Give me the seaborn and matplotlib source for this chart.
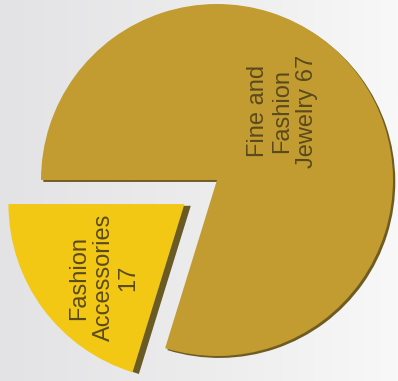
import matplotlib
matplotlib.use("Agg")
import matplotlib.pyplot as plt
from matplotlib.colors import LinearSegmentedColormap
import seaborn as sns
import numpy as np

# data
categories = ["Fine and\nFashion\nJewelry", "Fashion\nAccessories\n"]
values = [67, 17]
slice_colors = ["#C29C30", "#F2C814"]
shadow_colors = ["#6F5C22", "#6A5A24"]
explode = [0, 0.23]

sns.set_style("white")
plt.rcParams["font.family"] = ["Liberation Sans", "DejaVu Sans"]

fig = plt.figure(figsize=(3.98, 3.81), dpi=100)

# background gradient (light grey -> near white)
bg = fig.add_axes([0, 0, 1, 1])
cmap = LinearSegmentedColormap.from_list("bg", ["#E3E3E5", "#ECECED", "#F8F8F8"])
bg.imshow(np.linspace(0, 1, 256).reshape(1, -1), cmap=cmap, aspect="auto")
bg.axis("off")

ax = fig.add_axes([0, 0, 1, 1])
ax.patch.set_alpha(0)

# shadow pie for the 3d look (thin rim on big slice, thicker side on small one)
shadows, _ = ax.pie(values, explode=explode, colors=shadow_colors, startangle=180,
                    counterclock=False, radius=1, center=(0, 0),
                    wedgeprops=dict(linewidth=0))
for w, (ox, oy) in zip(shadows, [(0.013, -0.011), (0.036, -0.01)]):
    w.set_center((w.center[0] + ox, w.center[1] + oy))

wedges, _ = ax.pie(values, explode=explode, colors=slice_colors, startangle=180,
                   counterclock=False, radius=1, center=(0, 0),
                   wedgeprops=dict(linewidth=0))

# labels, rotated 90 degrees inside each slice
label_dist = [0.54, 0.62]
angle_shift = [10, 6]
for w, cat, val, d, s in zip(wedges, categories, values, label_dist, angle_shift):
    mid = np.deg2rad((w.theta1 + w.theta2) / 2 + s)
    cx, cy = w.center
    if cat.endswith("\n"):
        txt = cat + str(val)
    else:
        txt = cat + " " + str(val)
    ax.text(cx + d * np.cos(mid), cy + d * np.sin(mid), txt, rotation=90,
            ha="center", va="center", multialignment="center",
            fontsize=17, color="#5A4B1C", linespacing=1.15)

ax.set_xlim(-217 / 176, 181 / 176)
ax.set_ylim(-201 / 176, 180 / 176)
ax.set_aspect("auto")
ax.axis("off")

fig.savefig("out.png", dpi=100)
